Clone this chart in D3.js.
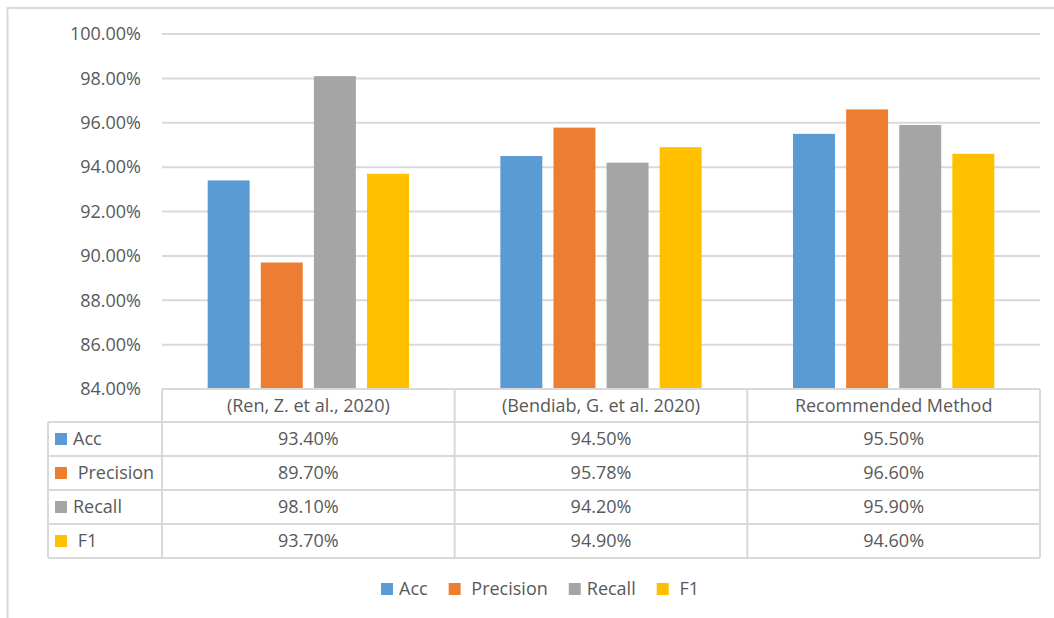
<!DOCTYPE html>
<html>
<head>
<meta charset="utf-8">
<script src="https://cdn.jsdelivr.net/npm/d3@7"></script>
<style>
  html, body { margin: 0; padding: 0; background: #fff; }
  text { font-family: "Open Sans", sans-serif; fill: #595959; }
</style>
</head>
<body>
<svg id="chart"></svg>
<script>
// categories and series
const categories = ["(Ren, Z. et al., 2020)", "(Bendiab, G. et al. 2020)", "Recommended Method"];
const seriesNames = ["Acc", "Precision", "Recall", "F1"];
const seriesLabels = ["Acc", " Precision", "Recall", " F1"]; // leading spaces as in the original
const seriesColors = ["#5B9BD5", "#ED7D31", "#A5A5A5", "#FFC000"];

// values per series (fractions)
const accValues = [0.934, 0.945, 0.955];
const precisionValues = [0.897, 0.9578, 0.966];
const recallValues = [0.981, 0.942, 0.959];
const f1Values = [0.937, 0.949, 0.946];

const yTicks = [0.84, 0.86, 0.88, 0.90, 0.92, 0.94, 0.96, 0.98, 1.00];

(function() {
    const W = 1054, H = 618;
    const gridColor = "#d9d9d9";
    const allValues = [accValues, precisionValues, recallValues, f1Values];

    const series = seriesNames.map((name, i) => ({
        name: name,
        label: seriesLabels[i],
        color: seriesColors[i],
        values: allValues[i]
    }));

    const plot = { left: 162, right: 1040, top: 34, bottom: 389 };
    const table = { left: 48, headerH: 33, rowH: 34 };

    const svg = d3.select("#chart")
        .attr("width", W)
        .attr("height", H);

    svg.append("rect").attr("width", W).attr("height", H).attr("fill", "#fff");

    // chart area border (left + top only visible)
    svg.append("path")
        .attr("d", `M7.5,${H} V8 H${W}`)
        .attr("fill", "none")
        .attr("stroke", gridColor)
        .attr("stroke-width", 2);

    const y = d3.scaleLinear()
        .domain([0.84, 1.00])
        .range([plot.bottom, plot.top]);

    const x0 = d3.scaleBand()
        .domain(categories)
        .range([plot.left, plot.right]);

    const x1 = d3.scaleBand()
        .domain(seriesNames)
        .range([0, x0.bandwidth()])
        .paddingInner(0.21)
        .paddingOuter(0.86);

    // gridlines
    svg.append("g")
        .selectAll("line")
        .data(yTicks.slice(1))
        .enter().append("line")
        .attr("x1", plot.left)
        .attr("x2", plot.right)
        .attr("y1", d => y(d))
        .attr("y2", d => y(d))
        .attr("stroke", gridColor)
        .attr("stroke-width", 2);

    // y axis labels
    svg.append("g")
        .selectAll("text")
        .data(yTicks)
        .enter().append("text")
        .attr("x", 141)
        .attr("y", d => y(d))
        .attr("dy", "0.35em")
        .attr("text-anchor", "end")
        .attr("font-size", "18px")
        .text(d => d3.format(".2%")(d));

    // bars
    const groups = svg.append("g")
        .selectAll("g")
        .data(series)
        .enter().append("g")
        .attr("fill", d => d.color);

    groups.selectAll("rect")
        .data(d => d.values.map((v, j) => ({ name: d.name, cat: categories[j], value: v })))
        .enter().append("rect")
        .attr("x", d => x0(d.cat) + x1(d.name))
        .attr("width", x1.bandwidth())
        .attr("y", d => y(d.value))
        .attr("height", d => y(0.84) - y(d.value));

    // data table
    const tTop = plot.bottom;
    const rowsTop = tTop + table.headerH;
    const tBottom = rowsTop + table.rowH * series.length;
    const tg = svg.append("g");

    // horizontal lines
    tg.append("line")
        .attr("x1", plot.left).attr("x2", plot.right)
        .attr("y1", tTop).attr("y2", tTop)
        .attr("stroke", gridColor).attr("stroke-width", 2);
    d3.range(series.length + 1).forEach(i => {
        const yy = rowsTop + i * table.rowH;
        tg.append("line")
            .attr("x1", table.left).attr("x2", plot.right)
            .attr("y1", yy).attr("y2", yy)
            .attr("stroke", gridColor).attr("stroke-width", 2);
    });
    // vertical lines
    tg.append("line")
        .attr("x1", table.left).attr("x2", table.left)
        .attr("y1", rowsTop).attr("y2", tBottom)
        .attr("stroke", gridColor).attr("stroke-width", 2);
    categories.forEach(c => {
        tg.append("line")
            .attr("x1", x0(c)).attr("x2", x0(c))
            .attr("y1", tTop).attr("y2", tBottom)
            .attr("stroke", gridColor).attr("stroke-width", 2);
    });
    tg.append("line")
        .attr("x1", plot.right).attr("x2", plot.right)
        .attr("y1", tTop).attr("y2", tBottom)
        .attr("stroke", gridColor).attr("stroke-width", 2);

    // header text
    tg.selectAll(".hdr")
        .data(categories)
        .enter().append("text")
        .attr("class", "hdr")
        .attr("x", d => x0(d) + x0.bandwidth() / 2)
        .attr("y", tTop + table.headerH / 2)
        .attr("dy", "0.35em")
        .attr("text-anchor", "middle")
        .attr("font-size", "18px")
        .text(d => d);

    // rows
    series.forEach((s, i) => {
        const cy = rowsTop + i * table.rowH + table.rowH / 2;
        tg.append("rect")
            .attr("x", 55).attr("y", cy - 6)
            .attr("width", 12).attr("height", 12)
            .attr("fill", s.color);
        tg.append("text")
            .attr("x", 73).attr("y", cy)
            .attr("dy", "0.35em")
            .attr("font-size", "18px")
            .style("white-space", "pre")
            .text(s.label);
        s.values.forEach((v, j) => {
            tg.append("text")
                .attr("x", x0(categories[j]) + x0.bandwidth() / 2)
                .attr("y", cy)
                .attr("dy", "0.35em")
                .attr("text-anchor", "middle")
                .attr("font-size", "18px")
                .text(d3.format(".2%")(v));
        });
    });

    // bottom legend
    const legend = svg.append("g");
    let lx = 0;
    series.forEach(s => {
        const item = legend.append("g").attr("transform", `translate(${lx},0)`);
        item.append("rect")
            .attr("x", 0).attr("y", -6)
            .attr("width", 12).attr("height", 12)
            .attr("fill", s.color);
        const t = item.append("text")
            .attr("x", 18).attr("y", 0)
            .attr("dy", "0.35em")
            .attr("font-size", "18px")
            .style("white-space", "pre")
            .text(s.label);
        lx += 18 + t.node().getComputedTextLength() + 21;
    });
    const legendW = lx - 21;
    legend.attr("transform", `translate(${540 - legendW / 2},589)`);
})();
</script>
</body>
</html>
